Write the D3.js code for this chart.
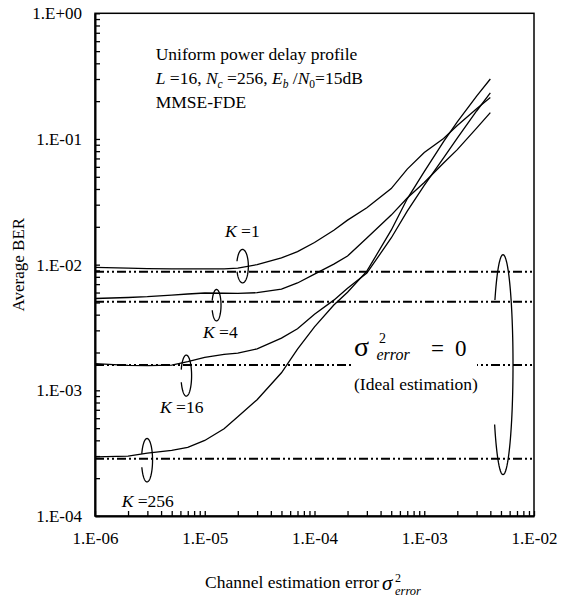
<!DOCTYPE html>
<html>
<head>
<meta charset="utf-8">
<script src="https://cdn.jsdelivr.net/npm/d3@7"></script>
<style>
  body { margin: 0; background: #fff; }
  svg text { font-family: "Liberation Serif", "Times New Roman", serif; fill: #000; }
</style>
</head>
<body>
<div id="chart"></div>
<script>
// channel estimation error (x) and average BER per K
var errorX = [1e-6, 2e-6, 3e-6, 5e-6, 7e-6, 1e-5, 1.5e-5, 2e-5, 3e-5, 5e-5, 7e-5,
    1e-4, 1.5e-4, 2e-4, 3e-4, 5e-4, 7e-4, 1e-3, 1.5e-3, 2e-3, 3e-3, 4e-3];
var berK1 = [9.5e-3, 9.4e-3, 9.3e-3, 9.25e-3, 9.25e-3, 9.25e-3, 9.25e-3, 9.4e-3, 1.0e-2, 1.13e-2, 1.27e-2,
    1.5e-2, 1.88e-2, 2.26e-2, 2.84e-2, 4.03e-2, 5.76e-2, 7.8e-2, 0.101, 0.128, 0.174, 0.214];
var berK4 = [5.38e-3, 5.48e-3, 5.56e-3, 5.72e-3, 5.84e-3, 5.95e-3, 5.92e-3, 5.9e-3, 5.98e-3, 6.38e-3, 7.15e-3,
    8.4e-3, 1.01e-2, 1.17e-2, 1.63e-2, 2.48e-2, 3.39e-2, 4.5e-2, 6.43e-2, 8.23e-2, 0.122, 0.162];
var berK16 = [1.63e-3, 1.58e-3, 1.57e-3, 1.585e-3, 1.69e-3, 1.83e-3, 1.93e-3, 1.98e-3, 2.14e-3, 2.6e-3, 3.09e-3,
    4.03e-3, 5.22e-3, 6.5e-3, 8.56e-3, 1.63e-2, 2.67e-2, 4.27e-2, 7.08e-2, 0.1015, 0.167, 0.233];
var berK256 = [2.95e-4, 3.0e-4, 3.16e-4, 3.33e-4, 3.52e-4, 3.99e-4, 4.95e-4, 6.16e-4, 8.42e-4, 1.38e-3, 2.13e-3,
    3.2e-3, 4.77e-3, 6.04e-3, 8.88e-3, 1.88e-2, 3.34e-2, 5.5e-2, 9.53e-2, 0.137, 0.219, 0.30];

// ideal estimation (sigma^2 = 0) BER for K = 1, 4, 16, 256
var idealBer = [8.77e-3, 5.06e-3, 1.59e-3, 2.86e-4];

// K labels and the loops that point at each curve
var kValues = ["1", "4", "16", "256"];
var loopX = [2.21e-5, 1.28e-5, 6.79e-6, 2.98e-6];
var loopY = [9.73e-3, 4.76e-3, 1.31e-3, 2.78e-4];
var labelX = [1.53e-5, 9.64e-6, 3.91e-6, 1.75e-6];
var labelY = [1.665e-2, 2.61e-3, 6.57e-4, 1.19e-4];
var bigLoopX = 5.22e-3;
var bigLoopY = 1.6e-3;

// tick labels
var xTickValues = [1e-6, 1e-5, 1e-4, 1e-3, 1e-2];
var xTickLabels = ["1.E-06", "1.E-05", "1.E-04", "1.E-03", "1.E-02"];
var yTickValues = [1e-4, 1e-3, 1e-2, 1e-1, 1];
var yTickLabels = ["1.E-04", "1.E-03", "1.E-02", "1.E-01", "1.E+00"];

var svgWidth = 568;
var svgHeight = 598;
var margin = { top: 13.3, right: 34, bottom: 82, left: 95 };
var width = svgWidth - margin.left - margin.right;
var height = svgHeight - margin.top - margin.bottom;
var serif = "'Liberation Serif', 'Times New Roman', serif";

var svg = d3.select("#chart")
    .append("svg")
    .attr("width", svgWidth)
    .attr("height", svgHeight);

var chartGroup = svg.append("g")
    .attr("transform", `translate(${margin.left}, ${margin.top})`);

var x = d3.scaleLog().domain([1e-6, 1e-2]).range([0, width]);
var y = d3.scaleLog().domain([1e-4, 1]).range([height, 0]);

// frame
chartGroup.append("rect")
    .attr("width", width)
    .attr("height", height)
    .attr("fill", "none")
    .attr("stroke", "#000")
    .attr("stroke-width", 1.5);

// ideal estimation lines
chartGroup.selectAll(".ideal")
    .data(idealBer)
    .enter()
    .append("line")
    .attr("class", "ideal")
    .attr("x1", 0)
    .attr("x2", width)
    .attr("y1", d => y(d))
    .attr("y2", d => y(d))
    .attr("stroke", "#000")
    .attr("stroke-width", 2)
    .attr("stroke-dasharray", "9,3,2,3,2,3");

// BER curves
var line = d3.line()
    .x((d, i) => x(errorX[i]))
    .y(d => y(d));

chartGroup.selectAll(".curve")
    .data([berK1, berK4, berK16, berK256])
    .enter()
    .append("path")
    .attr("class", "curve")
    .attr("d", line)
    .attr("fill", "none")
    .attr("stroke", "#000")
    .attr("stroke-width", 1.3);

// open loop (ellipse with a gap on its left side)
function loopPath(cx, cy, rx, ry, a0, a1) {
    var pts = d3.range(a0, a1 + 0.5, 3).map(a => [
        cx + rx * Math.cos(a * Math.PI / 180),
        cy + ry * Math.sin(a * Math.PI / 180)
    ]);
    return d3.line()(pts);
}

var loopSize = [[5.8, 16.7], [4.5, 15.7], [5.3, 20.5], [5.5, 21.7]];
kValues.forEach(function (k, i) {
    chartGroup.append("path")
        .attr("d", loopPath(x(loopX[i]), y(loopY[i]), loopSize[i][0], loopSize[i][1], 197, 523))
        .attr("fill", "none")
        .attr("stroke", "#000")
        .attr("stroke-width", 1.3);

    var t = chartGroup.append("text")
        .attr("x", x(labelX[i]))
        .attr("y", y(labelY[i]))
        .style("font-size", "17.5px");
    t.append("tspan").style("font-style", "italic").text("K");
    t.append("tspan").text(" =" + k);
});

// big loop around the ideal lines
chartGroup.append("path")
    .attr("d", loopPath(x(bigLoopX), y(bigLoopY), 10, 110, 216, 507))
    .attr("fill", "none")
    .attr("stroke", "#000")
    .attr("stroke-width", 1.3);

// sigma^2_error = 0 note (white box hides the K=16 line behind it)
var note = chartGroup.append("g")
    .attr("transform", `translate(${352 - margin.left}, ${356 - margin.top})`);
note.append("rect")
    .attr("x", 0).attr("y", -24)
    .attr("width", 125).attr("height", 62)
    .attr("fill", "#fff");
note.append("text").attr("x", 2).attr("y", 0)
    .style("font-size", "28px").text("σ");
note.append("text").attr("x", 27).attr("y", -13)
    .style("font-size", "14px").text("2");
note.append("text").attr("x", 24.5).attr("y", 3.5)
    .style("font-size", "16px").style("font-style", "italic").text("error");
note.append("text").attr("x", 79).attr("y", 0)
    .style("font-size", "23px").text("=");
note.append("text").attr("x", 103).attr("y", 0)
    .style("font-size", "23px").text("0");
note.append("text").attr("x", 2).attr("y", 34)
    .style("font-size", "17.5px").text("(Ideal estimation)");

// axes
var xAxis = d3.axisBottom(x)
    .tickValues(x.ticks())
    .tickSize(-5)
    .tickSizeOuter(0)
    .tickPadding(16)
    .tickFormat(d => {
        var i = xTickValues.findIndex(v => Math.abs(v - d) / v < 1e-6);
        return i >= 0 ? xTickLabels[i] : "";
    });

var yAxis = d3.axisLeft(y)
    .tickValues(y.ticks())
    .tickSize(-5)
    .tickSizeOuter(0)
    .tickPadding(13)
    .tickFormat(d => {
        var i = yTickValues.findIndex(v => Math.abs(v - d) / v < 1e-6);
        return i >= 0 ? yTickLabels[i] : "";
    });

var xg = chartGroup.append("g")
    .attr("transform", `translate(0, ${height})`)
    .call(xAxis);
var yg = chartGroup.append("g")
    .call(yAxis);

[xg, yg].forEach(function (g) {
    g.attr("font-family", serif).attr("font-size", 17);
    g.select(".domain").attr("stroke", "#000").attr("stroke-width", 2);
    g.selectAll(".tick line").attr("stroke", "#000").attr("stroke-width", 1.3);
    g.selectAll("text")
        .style("font-family", serif)
        .style("font-size", "17px")
        .style("font-weight", "normal")
        .attr("fill", "#000");
});

// top-left description
var desc = svg.append("g").style("font-size", "17.5px");
desc.append("text").attr("x", 155.7).attr("y", 60).text("Uniform power delay profile");
var line2 = desc.append("text").attr("x", 155.7).attr("y", 84);
line2.append("tspan").style("font-style", "italic").text("L");
line2.append("tspan").text(" =16, ");
line2.append("tspan").style("font-style", "italic").text("N");
line2.append("tspan").attr("dy", 4).style("font-size", "11.5px").style("font-style", "italic").text("c");
line2.append("tspan").attr("dy", -4).text(" =256, ");
line2.append("tspan").style("font-style", "italic").text("E");
line2.append("tspan").attr("dy", 4).style("font-size", "11.5px").style("font-style", "italic").text("b");
line2.append("tspan").attr("dy", -4).text(" /");
line2.append("tspan").style("font-style", "italic").text("N");
line2.append("tspan").attr("dy", 4).style("font-size", "11.5px").text("0");
line2.append("tspan").attr("dy", -4).text("=15dB");
desc.append("text").attr("x", 155.7).attr("y", 108).text("MMSE-FDE");

// axis titles
svg.append("text")
    .attr("transform", `translate(24, ${margin.top + height / 2}) rotate(-90)`)
    .attr("text-anchor", "middle")
    .style("font-size", "17px")
    .text("Average BER");

var xTitle = svg.append("g");
xTitle.append("text").attr("x", 205).attr("y", 588)
    .style("font-size", "17.5px").text("Channel estimation error");
xTitle.append("text").attr("x", 382).attr("y", 590)
    .style("font-size", "21px").style("font-style", "italic").text("σ");
xTitle.append("text").attr("x", 395).attr("y", 582)
    .style("font-size", "12px").text("2");
xTitle.append("text").attr("x", 395).attr("y", 595)
    .style("font-size", "12.5px").style("font-style", "italic").text("error");
</script>
</body>
</html>
